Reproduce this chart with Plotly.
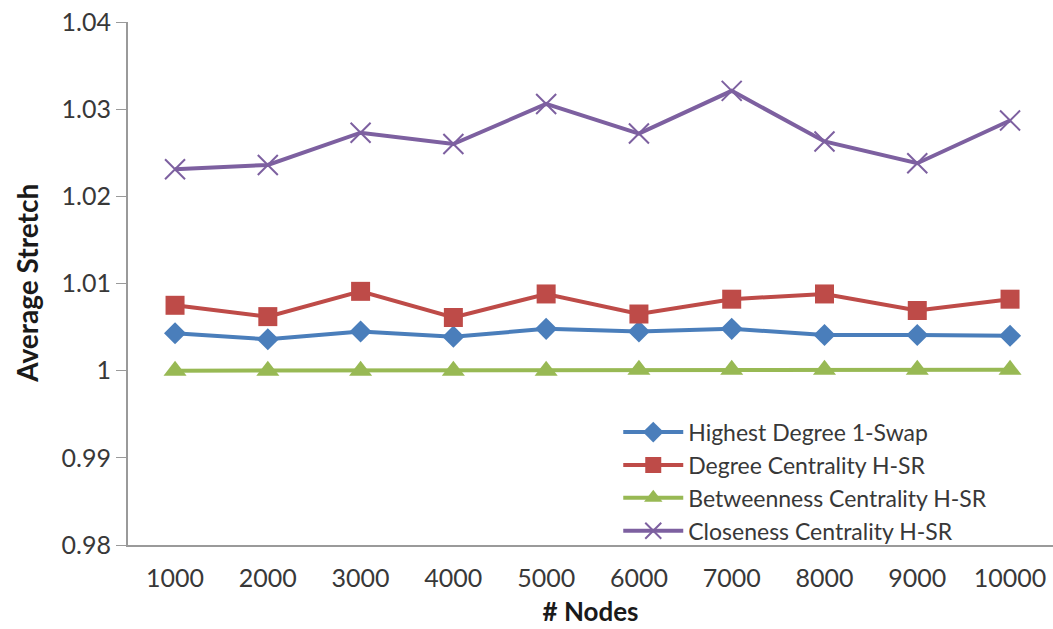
import plotly.graph_objects as go

# Network sizes on the x axis
nodes = ["1000", "2000", "3000", "4000", "5000", "6000", "7000", "8000", "9000", "10000"]

# Average stretch per scheme
highest_degree_1swap = [1.0043, 1.0036, 1.0045, 1.0039, 1.0048, 1.0045, 1.0048, 1.0041, 1.0041, 1.0040]
degree_centrality = [1.0075, 1.0062, 1.0091, 1.0061, 1.0088, 1.0065, 1.0082, 1.0088, 1.0069, 1.0082]
betweenness_centrality = [1.0000, 1.0000, 1.0000, 1.0000, 1.0000, 1.0001, 1.0001, 1.0001, 1.0001, 1.0001]
closeness_centrality = [1.0231, 1.0236, 1.0273, 1.0260, 1.0306, 1.0272, 1.0321, 1.0263, 1.0238, 1.0287]

FONT = "Lato"
TEXT = "#383838"

series = [
    ("Highest Degree 1-Swap", highest_degree_1swap, "#4A7EBB",
     dict(symbol="diamond", size=17, color="#4A7EBB")),
    ("Degree Centrality H-SR", degree_centrality, "#BE4B48",
     dict(symbol="square", size=19, color="#BE4B48")),
    ("Betweenness Centrality H-SR", betweenness_centrality, "#98B954",
     dict(symbol="triangle-up", size=20, color="#98B954")),
    ("Closeness Centrality H-SR", closeness_centrality, "#7D60A0",
     dict(symbol="x-thin-open", size=20, color="#7D60A0",
          line=dict(width=2, color="#7D60A0"))),
]

fig = go.Figure()
for name, values, color, marker in series:
    fig.add_trace(go.Scatter(
        x=nodes, y=values, name=name, mode="lines+markers",
        line=dict(color=color, width=4), marker=marker,
    ))

fig.update_layout(
    width=1053, height=629,
    margin=dict(l=128, r=0, t=22, b=84),
    paper_bgcolor="white", plot_bgcolor="white",
    font=dict(family=FONT, color=TEXT, size=24),
    showlegend=True,
    legend=dict(
        x=0.53, y=0.257, xanchor="left", yanchor="top",
        bgcolor="rgba(0,0,0,0)", font=dict(size=23, color=TEXT, family=FONT),
        tracegroupgap=0, itemwidth=60,
    ),
    xaxis=dict(
        type="category", range=[-0.507, 9.463],
        showgrid=False, zeroline=False,
        showline=True, linecolor="#9A9A9A", linewidth=2,
        ticks="", tickfont=dict(size=25, color=TEXT), ticklabelstandoff=10,
        title=dict(text="<b># Nodes</b>", font=dict(size=26, color="#1a1a1a"), standoff=12),
    ),
    yaxis=dict(
        range=[0.98, 1.04], tickvals=[0.98, 0.99, 1.0, 1.01, 1.02, 1.03, 1.04],
        ticktext=["0.98", "0.99", "1", "1.01", "1.02", "1.03", "1.04"],
        showgrid=False, zeroline=False,
        showline=True, linecolor="#9A9A9A", linewidth=2,
        ticks="outside", ticklen=10, tickcolor="#9A9A9A", tickwidth=1,
        tickfont=dict(size=25, color=TEXT),
    ),
    annotations=[dict(
        text="<b>Average Stretch</b>", textangle=-90,
        xref="paper", yref="paper", x=-0.110, y=0.5,
        xanchor="center", yanchor="middle", showarrow=False,
        font=dict(size=28, color="#1a1a1a", family=FONT),
    )],
)

fig.write_html("out.html")
